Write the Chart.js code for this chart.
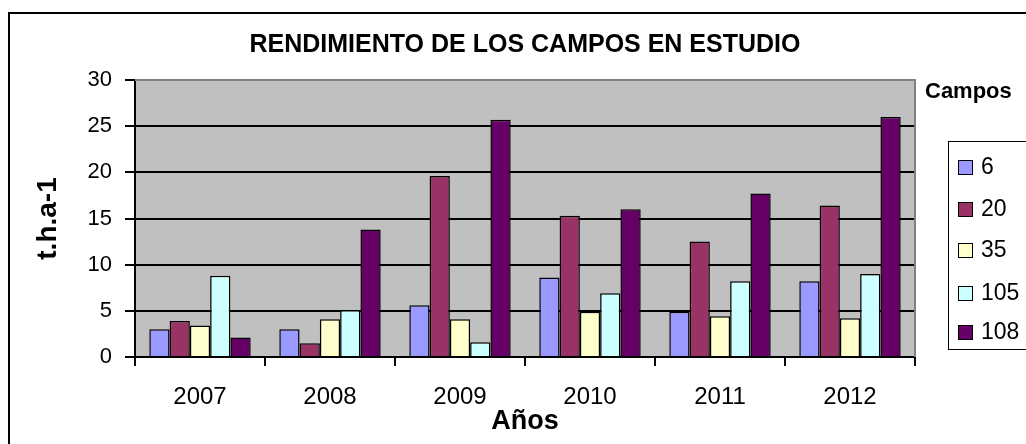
<!DOCTYPE html>
<html lang="es">
<head>
<meta charset="utf-8"/>
<title>Rendimiento de los campos en estudio</title>
<script src="https://cdn.jsdelivr.net/npm/chart.js"></script>
<style>
  body { margin: 0; background: #fff; font-family: "Liberation Sans", Arial, sans-serif; }
  #wrap { position: relative; width: 1026px; height: 444px; overflow: hidden; }
  #frame { position: absolute; left: 8px; top: 12px; width: 1040px; height: 460px; border: 2px solid #000; }
  #chart { position: absolute; left: 0; top: 0; }
  #legendTitle { position: absolute; left: 925px; top: 78px; font-weight: bold; font-size: 22px; }
  #legend { position: absolute; left: 948px; top: 141px; width: 100px; height: 207px; border: 1.5px solid #000; background: #fff; }
  .item { position: absolute; left: 9px; height: 28px; line-height: 28px; font-size: 23px; }
  .item span.box { display: inline-block; width: 13px; height: 13px; border: 1.5px solid #000; margin-right: 8px; vertical-align: -1px; }
</style>
</head>
<body>
<div id="wrap">
<div id="frame"></div>
<canvas id="chart" width="1026" height="444"></canvas>
<div id="legendTitle">Campos</div>
<div id="legend"></div>
</div>
<script>
  // values (t/ha)
  const years = ['2007', '2008', '2009', '2010', '2011', '2012'];
  const campo6 = [3.0, 3.0, 5.6, 8.6, 4.9, 8.2];
  const campo20 = [3.9, 1.5, 19.6, 15.3, 12.5, 16.4];
  const campo35 = [3.4, 4.1, 4.1, 4.9, 4.4, 4.2];
  const campo105 = [8.8, 5.1, 1.6, 6.9, 8.2, 9.0];
  const campo108 = [2.1, 13.8, 25.7, 16.0, 17.7, 26.0];
  const seriesNames = ['6', '20', '35', '105', '108'];
  const seriesColors = ['#9999FF', '#993366', '#FFFFCC', '#CCFFFF', '#660066'];
  const yTicks = [0, 5, 10, 15, 20, 25, 30];

  const FONT = '"Liberation Sans", Arial, sans-serif';
  const allSeries = [campo6, campo20, campo35, campo105, campo108];

  const plotBg = {
    id: 'plotBg',
    beforeDraw(chart) {
      const a = chart.chartArea, ctx = chart.ctx;
      ctx.save();
      ctx.fillStyle = '#C0C0C0';
      ctx.fillRect(a.left, a.top, a.right - a.left, a.bottom - a.top);
      ctx.restore();
    },
    afterDatasetsDraw(chart) {
      const a = chart.chartArea, ctx = chart.ctx;
      ctx.save();
      ctx.strokeStyle = '#808080';
      ctx.lineWidth = 2;
      ctx.beginPath();
      ctx.moveTo(a.left, a.top);
      ctx.lineTo(a.right, a.top);
      ctx.lineTo(a.right, a.bottom);
      ctx.stroke();
      ctx.restore();
    }
  };

  new Chart(document.getElementById('chart'), {
    type: 'bar',
    data: {
      labels: years,
      datasets: allSeries.map((d, i) => ({
        label: seriesNames[i],
        data: d,
        backgroundColor: seriesColors[i],
        borderColor: '#000',
        borderWidth: 1.5,
        categoryPercentage: 0.78,
        barPercentage: 1
      }))
    },
    options: {
      responsive: false,
      animation: false,
      layout: { padding: { left: 0, right: 111, top: 0, bottom: 0 } },
      plugins: {
        legend: { display: false },
        tooltip: { enabled: false },
        title: {
          display: true,
          fullSize: false,
          text: 'RENDIMIENTO DE LOS CAMPOS EN ESTUDIO',
          color: '#000',
          font: { family: FONT, size: 25, weight: 'bold' },
          padding: { top: 30, bottom: 20 }
        }
      },
      scales: {
        x: {
          afterFit(s) { s.height = 87; },
          grid: { drawOnChartArea: false, drawTicks: true, tickLength: 9, color: '#000', lineWidth: 2, offset: true },
          border: { color: '#000', width: 2 },
          ticks: { color: '#000', padding: 17, font: { family: FONT, size: 24 } },
          title: { display: true, text: 'Años', color: '#000', font: { family: FONT, size: 27, weight: 'bold' }, padding: { top: 0, bottom: 6 } }
        },
        y: {
          min: 0,
          max: 30,
          afterFit(s) { s.width = 135; },
          afterBuildTicks(s) { s.ticks = yTicks.map(v => ({ value: v })); },
          grid: {
            color: ctx => (ctx.tick && ctx.tick.value === 30 ? '#808080' : '#000'),
            tickColor: '#000',
            lineWidth: 2,
            tickLength: 10
          },
          border: { color: '#000', width: 2 },
          ticks: { color: '#000', padding: 13, font: { family: FONT, size: 22 } },
          title: { display: true, text: 't.h.a-1', color: '#000', font: { family: FONT, size: 28, weight: 'bold' }, padding: { top: 31, bottom: 0 } }
        }
      }
    },
    plugins: [plotBg]
  });

  // legend built from the same series lists
  const legend = document.getElementById('legend');
  const itemTops = [10, 52, 93, 136, 175];
  seriesNames.forEach((name, i) => {
    const el = document.createElement('div');
    el.className = 'item';
    el.style.top = itemTops[i] + 'px';
    el.innerHTML = '<span class="box" style="background:' + seriesColors[i] + '"></span>' + name;
    legend.appendChild(el);
  });
</script>
</body>
</html>
